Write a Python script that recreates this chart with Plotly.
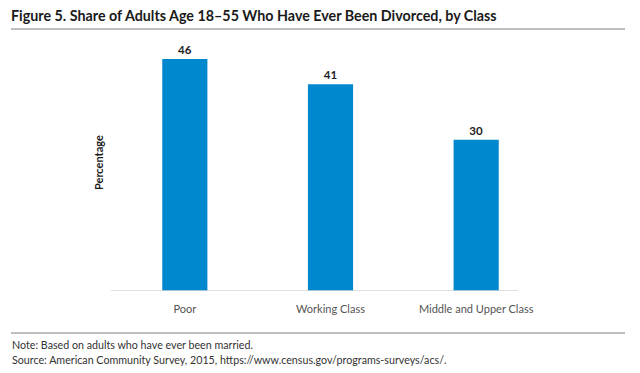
import plotly.graph_objects as go

categories = ["Poor", "Working Class", "Middle and Upper Class"]
values = [46, 41, 30]
labels = ["46", "41", "30"]

title_text = "Figure 5. Share of Adults Age 18\u201355 Who Have Ever Been Divorced, by Class"
note_text = "Note: Based on adults who have ever been married."
source_text = "Source: American Community Survey, 2015, https://www.census.gov/programs-surveys/acs/."

W, H = 640, 373
L, R, T, B = 112, 91, 50, 82

fig = go.Figure(go.Bar(
    x=categories, y=values, text=labels, textposition="outside",
    textfont=dict(family="Lato", size=11.5, color="#222222", weight="bold"),
    marker=dict(color="#0088CE", line=dict(width=0)),
    cliponaxis=False,
))

PW = W - L - R
PH = H - T - B

fig.update_layout(
    width=W, height=H,
    margin=dict(l=L, r=R, t=T, b=B),
    paper_bgcolor="white", plot_bgcolor="white",
    bargap=0.69,
    showlegend=False,
    xaxis=dict(showgrid=False, zeroline=False, showline=False, ticks="",
               tickfont=dict(family="Lato", size=11, color="#555555"),
               ticklabelstandoff=10),
    yaxis=dict(range=[0, 47.8], visible=False),
    font=dict(family="Lato"),
)

# baseline under bars
fig.add_shape(type="line", xref="paper", yref="y",
              x0=(111 - L) / PW, x1=(518 - L) / PW, y0=0, y1=0,
              line=dict(color="#d6d6d6", width=1.5))

# header / footer rules
for yy in (29, 333):
    fig.add_shape(type="line", xref="paper", yref="paper",
                  x0=(11 - L) / PW, x1=(625 - L) / PW,
                  y0=(H - B - yy) / PH, y1=(H - B - yy) / PH,
                  line=dict(color="#a9a9a9", width=1.5))

def ann(text, x, y, size, color, bold=False, angle=0, xanchor="left"):
    fig.add_annotation(
        text=text, xref="paper", yref="paper",
        x=(x - L) / PW, y=(H - B - y) / PH,
        xanchor=xanchor, yanchor="middle", showarrow=False, textangle=angle,
        font=dict(family="Lato", size=size, color=color,
                  weight="bold" if bold else "normal"),
    )

ann(title_text, 9, 15, 14.3, "#1a1a1a", bold=True)
ann("Percentage", 98, 163, 11, "#1a1a1a", bold=True, angle=-90, xanchor="center")
ann(note_text, 10, 344, 10.7, "#333333")
ann(source_text, 10, 359, 10.7, "#333333")

fig.write_html("out.html", config={"displayModeBar": False},
               post_script="document.body.style.margin='0';")
